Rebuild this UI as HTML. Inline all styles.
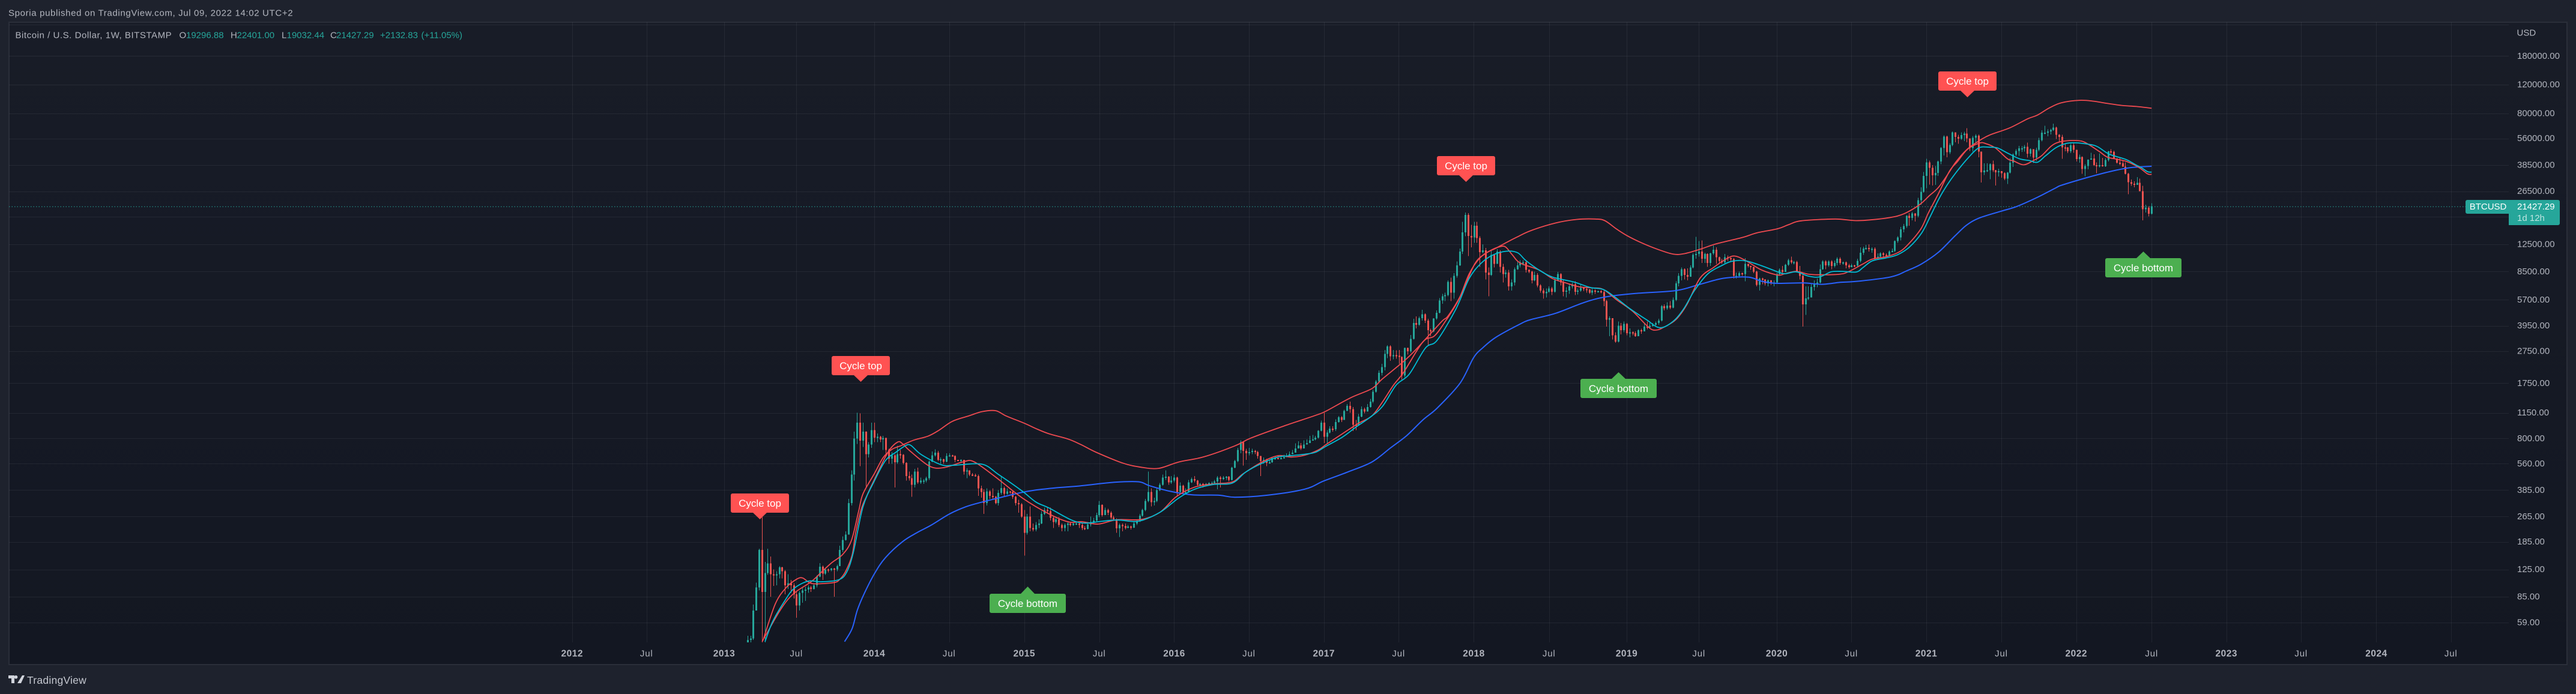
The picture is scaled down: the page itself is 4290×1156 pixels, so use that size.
<!DOCTYPE html>
<html lang="en">
<head>
<meta charset="utf-8">
<title>BTCUSD weekly chart</title>
<style>
html,body{margin:0;padding:0;background:#1e222d;width:4290px;height:1156px;overflow:hidden}
svg{display:block}
text{font-family:"Liberation Sans",sans-serif;font-size:15px;fill:#b2b5be}
.mid{dominant-baseline:central}
.teal{fill:#26a69a}
</style>
</head>
<body>
<svg xmlns="http://www.w3.org/2000/svg" width="4290" height="1156" viewBox="0 0 4290 1156">
  <defs>
    <linearGradient id="paneFill" x1="0" y1="0" x2="0" y2="1">
      <stop offset="0" stop-color="#181c27"/>
      <stop offset="1" stop-color="#131722"/>
    </linearGradient>
    <clipPath id="paneClip"><rect x="15" y="37" width="4163" height="1033"/></clipPath>
  </defs>
  <rect width="4290" height="1156" fill="#1e222d"/>
  <text x="14" y="22" class="mid" style="letter-spacing:.65px">Sporia published on TradingView.com, Jul 09, 2022 14:02 UTC+2</text>
  <rect x="15" y="37" width="4260" height="1070" fill="url(#paneFill)" stroke="#2a2e39" stroke-width="2"/>
  <g id="grid"></g>
  <line x1="15" x2="4106" y1="344.2" y2="344.2" stroke="#26a69a" stroke-width="1" stroke-dasharray="1.5 3"/>
  <g id="series" clip-path="url(#paneClip)"></g>

  <g>
    <text x="25.5" y="59" class="mid" style="letter-spacing:.55px">Bitcoin / U.S. Dollar, 1W, BITSTAMP</text>
    <text x="298.5" y="59" class="mid">O</text>
    <text x="310" y="59" class="mid teal">19296.88</text>
    <text x="384" y="59" class="mid">H</text>
    <text x="394.5" y="59" class="mid teal">22401.00</text>
    <text x="469" y="59" class="mid">L</text>
    <text x="477.5" y="59" class="mid teal">19032.44</text>
    <text x="550" y="59" class="mid">C</text>
    <text x="560" y="59" class="mid teal">21427.29</text>
    <text x="633" y="59" class="mid teal">+2132.83</text>
    <text x="701.5" y="59" class="mid teal">(+11.05%)</text>
  </g>

  <g id="annotations" style="font-size:17px">
    <g>
      <path d="M1220 822h91a3 3 0 0 1 3 3v26a3 3 0 0 1-3 3h-34l-11.500 11-11.500-11h-34a3 3 0 0 1-3-3v-26a3 3 0 0 1 3-3z" fill="#ff5252"/>
      <text x="1265.500" y="838.500" class="mid" text-anchor="middle" style="font-size:17px;fill:#fff">Cycle top</text>
    </g>
    <g>
      <path d="M1388 593h91a3 3 0 0 1 3 3v26a3 3 0 0 1-3 3h-34l-11.500 11-11.500-11h-34a3 3 0 0 1-3-3v-26a3 3 0 0 1 3-3z" fill="#ff5252"/>
      <text x="1433.500" y="609.500" class="mid" text-anchor="middle" style="font-size:17px;fill:#fff">Cycle top</text>
    </g>
    <g>
      <path d="M2396 260h91a3 3 0 0 1 3 3v26a3 3 0 0 1-3 3h-34l-11.500 11-11.500-11h-34a3 3 0 0 1-3-3v-26a3 3 0 0 1 3-3z" fill="#ff5252"/>
      <text x="2441.500" y="276.500" class="mid" text-anchor="middle" style="font-size:17px;fill:#fff">Cycle top</text>
    </g>
    <g>
      <path d="M3231 119h91a3 3 0 0 1 3 3v26a3 3 0 0 1-3 3h-34l-11.500 11-11.500-11h-34a3 3 0 0 1-3-3v-26a3 3 0 0 1 3-3z" fill="#ff5252"/>
      <text x="3276.500" y="135.500" class="mid" text-anchor="middle" style="font-size:17px;fill:#fff">Cycle top</text>
    </g>
    <g>
      <path d="M1651 989h49l11.500-12 11.500 12h49a3 3 0 0 1 3 3v26a3 3 0 0 1-3 3h-121a3 3 0 0 1-3-3v-26a3 3 0 0 1 3-3z" fill="#4caf50"/>
      <text x="1711.500" y="1005.500" class="mid" text-anchor="middle" style="font-size:17px;fill:#fff">Cycle bottom</text>
    </g>
    <g>
      <path d="M2635 631h49l11.500-11 11.500 11h49a3 3 0 0 1 3 3v26a3 3 0 0 1-3 3h-121a3 3 0 0 1-3-3v-26a3 3 0 0 1 3-3z" fill="#4caf50"/>
      <text x="2695.500" y="647.500" class="mid" text-anchor="middle" style="font-size:17px;fill:#fff">Cycle bottom</text>
    </g>
    <g>
      <path d="M3509 430h49l11.500-11 11.500 11h49a3 3 0 0 1 3 3v26a3 3 0 0 1-3 3h-121a3 3 0 0 1-3-3v-26a3 3 0 0 1 3-3z" fill="#4caf50"/>
      <text x="3569.500" y="446.500" class="mid" text-anchor="middle" style="font-size:17px;fill:#fff">Cycle bottom</text>
    </g>
  </g>

  <text x="4191.500" y="55" class="mid">USD</text>
  <g id="axes"></g>

  <g>
    <path d="M4109 333H4260a3 3 0 0 1 3 3V372a3 3 0 0 1-3 3H4178V356H4109a3 3 0 0 1-3-3V336a3 3 0 0 1 3-3z" fill="#26a69a"/>
    <text x="4112.700" y="344.500" class="mid" style="fill:#fff">BTCUSD</text>
    <text x="4192" y="344.500" class="mid" style="fill:#fff">21427.29</text>
    <text x="4192" y="363.500" class="mid" style="fill:#fff;fill-opacity:.7">1d 12h</text>
  </g>

  <g>
    <path d="M14 1125h10v13h-5v-8h-5zM37 1125h4l-6 13h-6zM26.500 1125a2.800 2.800 0 1 1-.01 0z" fill="#d1d4dc"/>
    <text x="45" y="1133" class="mid" style="font-size:17.500px;letter-spacing:.25px;fill:#c4c7cf">TradingView</text>
  </g>
</svg>

<script>
// Weekly closes, highs, lows: oldest (Feb 2013) to newest (Jul 2022), ten per row.
const barCloses = [
27,30,34,46,47,70,97,165,91,119,
136,117,115,117,129,122,100,103,100,88,
75,90,93,94,97,95,100,113,130,118,
125,124,127,125,131,165,190,205,320,480,
800,1000,775,880,640,735,900,810,820,790,
805,680,600,630,570,640,635,565,470,455,
415,500,430,440,440,455,575,630,655,590,
595,575,625,630,625,590,585,590,500,510,
480,475,470,395,375,320,378,355,350,320,
370,396,365,378,375,350,320,315,265,210,
265,225,220,235,240,275,290,285,260,245,
255,235,225,235,240,235,240,240,235,225,
222,237,245,250,270,312,270,291,280,261,
255,224,235,232,225,230,226,240,247,268,
290,330,375,325,330,385,415,460,465,430,
440,460,375,410,375,375,430,450,440,415,
420,415,420,425,425,435,460,450,460,465,
445,530,580,680,760,670,650,660,670,660,
625,580,590,565,570,605,605,600,605,615,
625,640,655,695,725,695,735,750,780,790,
810,893,1000,820,870,920,910,1010,1080,1040,
1180,1270,1210,970,960,1090,1210,1170,1250,1350,
1550,1790,2030,2200,2650,2950,2560,2600,2580,2540,
1950,2880,2750,3280,4100,4000,4400,4650,4250,3700,
3650,4380,4750,5650,6000,6100,7350,6300,8000,9300,
11300,14800,19000,14100,13800,16300,13700,11200,11500,8400,
8100,10800,9500,11300,9100,8200,8400,6900,7300,8800,
9300,9700,9700,8700,8500,7500,8100,7000,6500,6250,
6400,6700,6400,7500,8200,7300,6400,6500,6900,7100,
6400,6500,6750,6650,6600,6300,6500,6450,6450,6350,
5600,4300,4400,3450,3150,3950,3700,4050,3550,3600,
3550,3400,3700,3650,3900,3850,3950,4000,4100,4250,
5200,5050,5250,5100,5700,7200,8000,8800,8100,7900,
9000,10800,10900,11300,10200,10900,9600,11000,11600,10400,
9900,9700,10400,10300,10150,8000,8000,8300,8200,9500,
9200,9050,8500,7050,7700,7600,7200,7500,7200,7300,
8200,8700,8450,9350,10000,9700,9750,8500,8000,5350,
5830,5900,6850,7100,7300,8800,9800,9300,9800,9200,
9600,10200,9600,9700,9300,9050,9300,9250,9900,11100,
11800,11900,11700,11750,10300,10500,11000,10800,10700,11300,
11400,13100,13800,15500,16200,18700,18200,19400,18700,23400,
26300,33000,40000,37000,33300,34400,40500,48900,57500,46200,
51000,61200,57400,55800,58800,60000,56100,48900,56600,58200,
46500,34700,35600,35800,39000,35700,34700,35300,34300,31800,
34600,39800,44600,47000,48800,48800,49900,45100,48200,42700,
47700,54700,60900,60900,61800,63300,65500,59000,57300,49400,
49300,46800,50800,47700,41800,43100,36300,37900,41400,42200,
38400,37700,38400,37800,41300,46800,46400,42200,39700,39500,
37600,34000,30100,29500,29000,29900,26600,20600,21000,19296.88,
21427.29];
const barHighs = [
28,31,35,49,49,76,104,168,262,139,
168,150,125,122,131,130,124,117,108,103,
92,92,96,98,100,99,103,115,137,132,
128,127,128,128,134,175,200,215,340,510,
880,1150,1140,1000,885,760,1000,1000,860,830,
830,810,690,660,640,720,680,640,570,500,
480,520,530,460,450,465,585,665,685,670,
610,600,650,650,635,630,590,595,590,525,
510,490,485,480,410,390,395,385,395,355,
385,470,405,395,380,385,355,335,320,290,
275,305,240,245,255,285,300,300,300,265,
265,262,240,240,245,245,245,248,245,240,
232,245,265,260,280,330,315,300,295,285,
268,258,240,240,240,235,233,245,255,275,
295,340,500,395,345,400,425,480,510,470,
470,480,465,430,415,395,445,460,470,445,
425,425,425,430,435,445,470,470,470,470,
470,535,590,700,780,770,690,700,690,680,
670,620,610,600,590,610,620,625,620,635,
650,665,680,745,770,750,780,790,830,840,
830,900,1030,1150,900,950,950,1050,1100,1100,
1200,1300,1350,1250,1040,1130,1260,1240,1300,1400,
1600,1830,2100,2300,2800,3000,3000,2800,2790,2800,
2560,2900,2900,3470,4350,4510,4480,4950,4700,4350,
3780,4400,4900,5850,6190,6300,7500,7800,8300,9800,
11800,17200,19600,19500,16500,17200,17200,14000,12500,11900,
9000,11500,10900,11700,11500,9500,8700,8700,7600,9000,
9800,10000,10000,9900,8800,8600,8500,8300,7100,6700,
6700,6900,6850,7700,8450,8300,7500,6800,7100,7300,
7400,6700,7100,6850,6800,6650,6700,6600,6500,6560,
6500,5700,4500,4400,3600,4200,4100,4200,4100,3800,
3650,3650,3750,3780,4130,4200,4100,4100,4200,4350,
5300,5350,5500,5600,5900,7400,8300,9000,8900,8900,
9300,11000,13900,13100,13200,11100,11000,11100,12300,12000,
10500,10200,10900,10700,10400,10300,8400,8500,8400,10300,
9500,9250,9150,8600,7800,7800,7650,7600,7550,7500,
8400,8900,9200,9500,10200,10500,9900,9900,9200,8150,
6900,6900,7200,7500,7700,9400,10000,10000,10000,10000,
9950,10400,10400,9800,9800,9500,9500,9350,10200,12000,
12100,12400,12500,12000,12000,11000,11200,11200,11000,11500,
11800,13200,14000,16000,16700,18900,19500,19800,19500,24200,
28000,34800,42000,41000,38500,38000,41000,49500,58500,58300,
52500,61800,61000,59000,61200,61500,64800,56000,58000,59500,
59200,46000,39500,39400,39400,41000,35900,36500,35100,34700,
34800,42400,45300,48100,50500,50200,51000,52900,48800,47300,
49200,56500,62900,67000,63700,64300,69000,66300,59500,59100,
51900,49500,51900,52100,47600,44500,43500,38900,41700,45800,
44700,40000,45400,42500,42300,47000,48200,47200,42400,43000,
40800,40000,34400,31300,30600,32400,31700,28600,21900,21500,
22401];
const barLows = [
24,27,29,34,44,46,70,93,40,40,
116,85,99,100,110,110,88,95,90,83,
63,70,78,80,90,91,94,97,112,108,
116,120,122,85,122,131,160,188,205,310,
440,740,540,710,400,610,700,760,760,760,
680,640,560,560,400,560,600,555,440,440,
350,400,420,420,420,430,445,570,620,580,
560,560,570,620,620,570,580,570,480,455,
470,470,465,355,345,275,310,340,335,315,
310,360,350,360,365,340,310,280,260,152,
205,215,215,215,225,238,270,275,250,225,
240,228,215,215,215,230,232,235,225,218,
218,220,230,240,245,262,265,270,270,255,
250,210,198,215,220,225,220,225,235,245,
265,285,325,305,310,325,380,410,445,415,
420,430,355,365,365,370,375,425,430,405,
405,400,410,410,415,420,390,400,445,445,
435,440,525,570,650,545,590,630,640,640,
600,470,560,540,560,565,590,595,600,600,
615,630,650,660,720,680,700,735,765,780,
780,800,885,750,740,860,880,890,1000,1010,
1040,1180,1150,890,900,960,1080,1140,1170,1240,
1320,1530,1780,1950,2100,2500,2400,2450,2480,2300,
1840,1900,2630,2700,3250,3800,3950,4250,4100,2980,
3400,3600,4300,4700,5400,5600,6000,5600,5800,7800,
9200,10900,14000,10600,12000,12800,12800,9100,11000,7600,
6000,8000,9000,9500,8400,7300,7800,6500,6500,7000,
8700,9000,9300,8400,8300,7200,7400,6800,6300,5800,
5900,6300,6100,6300,7400,7000,6000,5900,6200,6700,
6100,6150,6400,6450,6300,6200,6100,6200,6350,6250,
5200,3900,3400,3250,3100,3120,3500,3600,3450,3350,
3450,3380,3400,3530,3650,3750,3800,3900,3950,4000,
4200,4900,4950,5000,5050,5600,6900,7500,7600,7500,
7900,8900,10200,10500,9600,9600,9100,9200,10800,9500,
9500,9500,9500,9900,9800,7700,7700,7800,8000,7400,
9000,8700,8300,6900,6500,7100,7000,6900,7050,6900,
7250,8000,8300,8500,9200,9500,9400,8400,7600,3900,
4600,5700,5900,6500,6800,7200,8700,8800,9100,8800,
9000,9300,9350,9350,8900,8850,9100,9050,9150,9700,
10800,11600,11300,11100,10000,10200,10400,10200,10400,10550,
11200,11200,12800,13200,14800,15800,16300,17600,17300,18300,
21900,26000,27700,29200,28800,29000,33000,39000,44000,43000,
45000,50200,53000,52000,55000,54000,53000,47000,46500,53000,
43000,30000,33400,34900,31500,34800,28800,32700,32100,31100,
29400,34100,37400,43700,43900,46300,46600,42800,43400,39600,
40700,46800,53800,59500,57800,59400,62300,55600,53300,42000,
46800,45600,45600,45700,40500,39700,34000,32900,36200,41700,
38000,34300,37100,37600,37500,40500,44900,42100,39200,38500,
37500,33700,25400,28600,28000,29300,26600,17600,19600,18600,
19032.44];
const firstOpen = 25;

// Moving averages, sampled by eye: weeks before the last bar and price there.
const upperWeeksBack = [482,480,476,473,470,465,461.5,458,454,451,448.5,447,443,440,437,433.6,429.5,424.4,420.6,416,410.4,405.7,401,397.3,390.9,387,382.5,376,371.5,366.3,357,350.5,344.4,337.5,329,318,312.4,301,290,286.3,278,270.5,266.8,260,255.6,246.5,244,239.4,234.8,231,227.4,223.6,220,215.3,206.9,199.4,193,189.7,185.5,181.8,177,171.6,166,162.2,156.7,151,141.8,137,129.7,126,121.5,109.7,102.5,94.5,88.1,84.1,80.1,77,74,70.8,68,64.2,60,56.2,49.3,43,39.6,35.4,31.2,25,20.1,16,10.4,4.8,0];
const upperPrices = [45,52,69,82,92,105,120,137,155,189,286,365,488,610,685,725,780,827,900,1020,1100,1170,1185,1100,990,920,855,795,735,660,565,532,524,573,615,720,805,954,1110,1180,1420,1620,1860,2340,2770,4150,4550,6195,9480,11000,11850,12900,13900,15200,16900,17800,17900,17500,15500,14100,12800,11700,10900,10950,11650,12600,13800,14700,15600,16500,17450,17900,17500,17900,18700,20000,22200,25000,27900,33500,39900,47700,54000,58800,65000,74000,78000,86500,93000,96200,95000,92400,89500,88000,86000];

const fastWeeksBack = [481.5,477.4,473.6,470,468,465.7,463.4,457,455,453,450.8,449.5,447.6,445.7,443,438.3,435,433.2,430.9,423.9,418.8,412.2,408.5,401,391.8,382.5,375.6,371,365.4,358.9,350.5,344,338.4,331.9,325.4,318.9,315.2,308.6,303,298.4,293.8,289.1,286.3,280.7,275.2,270.5,266.8,263,259.4,252.8,248.8,245,240.4,236.7,233,229.2,226,224.1,221.8,219,212.5,207.8,203.2,198.5,193.9,190.2,185.5,180,174.3,171.6,168.8,165,161.3,156.7,152,147.4,144.6,140.9,135.3,129.7,127.2,123.2,119.2,114.4,108,104.9,100.1,96.9,92.1,88.1,85,80.1,77.4,74,70.1,67.4,63.9,59.7,57.6,54.2,50,47.9,44.4,41,38.2,34.7,32,28.5,24.3,21.5,18,15.3,11.8,8.3,4.2,1.4,0];
const fastPrices = [47,77,97,109,111,104,102,104,109,122,153,212,295,355,449,660,760,740,675,540,530,575,575,463,345,275,245,246,238,253,254,281,350,402,420,432,484,573,627,615,631,679,735,855,990,1100,1340,1700,2050,3140,3416,4200,5690,8250,10320,11500,12100,12050,10800,9600,8700,7700,7240,6850,6745,6600,5690,4840,3840,3720,3900,4310,5290,7720,9000,10200,10600,9960,8700,8100,8250,8530,8200,8130,8200,8530,9480,10150,10500,11100,12200,15500,19550,25500,35300,40240,48000,52500,52150,49000,42000,40800,38600,41000,43820,50500,53300,54400,54000,51000,46400,43000,41700,40240,36960,33950,33700];

const cyanWeeksBack = [481,478.3,474,470.8,466,461.5,455.5,452.7,450.4,447,443,439.2,435.5,432.2,430.4,426.7,419.7,415,405.7,400,391.8,387,382.5,374.7,370,365.4,358.9,351.4,344,337.5,331.9,325.4,318.9,314.2,308.6,303,298.4,293.8,290,286.3,280.7,276,271.4,266.8,262.1,257.5,251.9,247.8,241.3,236.7,232.5,228.3,223.6,219.9,217.1,212.5,207.8,200.4,194.8,190.2,186.4,180.9,175.3,170.6,166,162.3,158.5,153.9,149.2,145.5,140.9,135.3,129.7,127.2,123.2,119.2,115.2,111.2,107.3,102.5,100.1,96.9,92.1,88.1,84.1,79.8,76.7,73.6,70.8,68,63.9,60,56.2,53.5,50,45.8,42.4,39.6,36.8,33.3,29.8,26.4,21.5,18.7,14.6,9,5.5,3.5,1.4,0];
const cyanPrices = [45,60,81,96,106,105,108,120,158,304,440,585,660,723,725,635,550,548,555,480,380,325,299,252,241,246,252,248,281,344,390,417,425,497,563,615,627,640,658,718,815,940,1070,1260,1700,1990,2880,3220,5020,7720,9600,10800,11350,11100,9960,8700,7860,7340,6790,6600,5970,5020,4310,3840,4200,5020,6530,8250,9240,9850,9900,9240,8470,8250,8470,7990,7880,8470,8530,8450,9000,9900,10320,10800,12000,14650,18700,24160,29200,34300,42000,49000,49500,49000,45600,42000,41000,40000,43820,49000,52150,52700,51500,49800,44800,41700,38600,37000,35000,34800];

const blueWeeksBack = [453.4,450.8,449,446.7,443,439.2,433.2,428,423.4,416.9,411.3,405.7,399.2,392.7,387.1,379.7,371.9,359.8,351.4,347.7,340.3,332.8,323.5,318,306.8,293.8,287.2,278.9,270.5,264,258.4,252.8,247.8,239.9,235.2,232,227.4,219,215.3,206.9,196.6,189.2,179,165,156.7,148.3,139.9,135.3,130.4,120.8,114.4,108,101.7,90.5,84.9,79.8,73.8,68.2,64.2,59.8,52.2,46.7,39.5,33.1,31.2,22.9,14.6,7.6,0];
const bluePrices = [45,54,70,88,118,148,186,212,234,275,304,325,347,370,385,398,408,430,433,410,378,360,358,348,358,390,438,497,573,700,833,1040,1232,1750,2510,2890,3360,4050,4310,4700,5510,5950,6240,6500,7100,7740,7860,7420,7200,7240,7100,7300,7420,7880,8600,9480,11235,14100,16400,18150,20000,21400,24400,27900,28900,32000,35000,37000,37800];

const priceTicks = [180000,120000,80000,56000,38500,26500,12500,8500,5700,3950,2750,1750,1150,800,560,385,265,185,125,85,59];
const unlabeledPriceTicks = [280000,18500];
const timeTickLabels = ['2012','Jul','2013','Jul','2014','Jul','2015','Jul','2016','Jul','2017','Jul','2018','Jul','2019','Jul','2020','Jul','2021','Jul','2022','Jul','2023','Jul','2024','Jul'];
const timeTickYears = [2012.005,2012.5,2013.016,2013.496,2014.014,2014.512,2015.011,2015.51,2016.008,2016.505,2017.003,2017.5,2018,2018.5,2019.016,2019.496,2020.014,2020.51,2021.008,2021.507,2022.005,2022.506,2023.003,2023.5,2024,2024.496];

const SVG_NS = 'http://www.w3.org/2000/svg';
const lastBarYear = 2022.506;
function xOfYear(t){ return 952.7 + 250.5 * (t - 2012.005); }
function xOfWeeksBack(n){ return xOfYear(lastBarYear - n * 7 / 365.25); }
function yOfPrice(p){ return 93.4 + 117.6 * (Math.log(180000) - Math.log(p)); }
function make(tag, attrs, parent){
  const el = document.createElementNS(SVG_NS, tag);
  for (const k in attrs) el.setAttribute(k, attrs[k]);
  parent.appendChild(el);
  return el;
}

const gridLayer = document.getElementById('grid');
const axesLayer = document.getElementById('axes');
const seriesLayer = document.getElementById('series');
const GRID = 'rgba(240,243,250,0.065)';

priceTicks.concat(unlabeledPriceTicks).forEach(function(v){
  const y = Math.round(yOfPrice(v)) + 0.5;
  const line = make('line', {x1:15, x2:4178, y1:y, y2:y, stroke:GRID, 'stroke-width':1}, gridLayer);
  
  
});
timeTickYears.forEach(function(t){
  const x = Math.round(xOfYear(t)) + 0.5;
  const line = make('line', {x1:x, x2:x, y1:37, y2:1070, stroke:GRID, 'stroke-width':1}, gridLayer);
  
  
});
priceTicks.forEach(function(v){
  const label = make('text', {x:4192, y:yOfPrice(v), 'class':'mid'}, axesLayer);
  label.textContent = v.toFixed(2);
  
  
});
timeTickLabels.forEach(function(text, i){
  const isYear = text !== 'Jul';
  const label = make('text', {x:xOfYear(timeTickYears[i]), y:1089, 'class':'mid', 'text-anchor':'middle', 'style': isYear ? 'font-weight:bold;font-size:15.5px;letter-spacing:.5px' : 'letter-spacing:.8px'}, axesLayer);
  label.textContent = text;
  
  
});

const N = barCloses.length;
barCloses.forEach(function(close, i){
  const open = i === 0 ? firstOpen : barCloses[i - 1];
  const high = Math.max(barHighs[i], open, close);
  const low = Math.min(barLows[i], open, close);
  const x = Math.floor(xOfWeeksBack(N - 1 - i));
  const color = close >= open ? '#26a69a' : '#ef5350';
  const group = make('g', {fill:color, 'shape-rendering':'crispEdges'}, seriesLayer);
  
  
  make('rect', {x:x, width:1, y:yOfPrice(high), height:yOfPrice(low) - yOfPrice(high)}, group);
  const top = yOfPrice(Math.max(open, close));
  const bottom = yOfPrice(Math.min(open, close));
  make('rect', {x:x - 1, width:3, y:top, height:Math.max(bottom - top, 2)}, group);
});

function drawLine(weeks, prices, color, width, name){
  const pts = weeks.map(function(n, i){
    return [xOfWeeksBack(n), yOfPrice(prices[i])];
  });
  let d = 'M' + pts[0][0].toFixed(1) + ' ' + pts[0][1].toFixed(1);
  for (let i = 0; i < pts.length - 1; i++) {
    const p0 = pts[Math.max(i - 1, 0)];
    const p1 = pts[i];
    const p2 = pts[i + 1];
    const p3 = pts[Math.min(i + 2, pts.length - 1)];
    const c1x = p1[0] + (p2[0] - p0[0]) / 6;
    const c1y = p1[1] + (p2[1] - p0[1]) / 6;
    const c2x = p2[0] - (p3[0] - p1[0]) / 6;
    const c2y = p2[1] - (p3[1] - p1[1]) / 6;
    d += 'C' + c1x.toFixed(1) + ' ' + c1y.toFixed(1) + ' ' + c2x.toFixed(1) + ' ' + c2y.toFixed(1) + ' ' + p2[0].toFixed(1) + ' ' + p2[1].toFixed(1);
  }
  const path = make('path', {d:d, fill:'none', stroke:color, 'stroke-width':width, 'stroke-linejoin':'round'}, seriesLayer);
  
  
}
drawLine(blueWeeksBack, bluePrices, '#2962ff', 2, 'long-moving-average-line');
drawLine(upperWeeksBack, upperPrices, '#ef4a50', 1.8, 'upper-band-line');
drawLine(fastWeeksBack, fastPrices, '#ef4a50', 1.8, 'fast-moving-average-line');
drawLine(cyanWeeksBack, cyanPrices, '#00bcd4', 1.8, 'medium-moving-average-line');
</script>
</body>
</html>
